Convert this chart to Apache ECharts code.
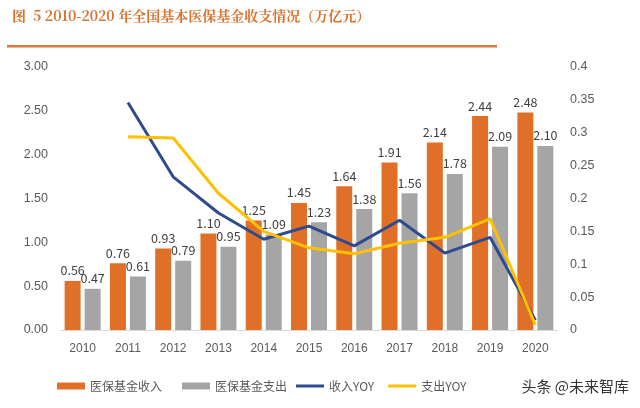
<!DOCTYPE html>
<html>
<head>
<meta charset="utf-8">
<script src="https://cdn.jsdelivr.net/npm/echarts@6/dist/echarts.min.js"></script>
<style>
  html, body { margin: 0; padding: 0; background: #fff; }
  #chart { width: 640px; height: 408px; }
</style>
</head>
<body>
<div id="chart"></div>
<script>
// 年份
const years = ['2010', '2011', '2012', '2013', '2014', '2015', '2016', '2017', '2018', '2019', '2020']
// 医保基金收入 / 支出（万亿元）
const income = [0.56, 0.76, 0.93, 1.10, 1.25, 1.45, 1.64, 1.91, 2.14, 2.44, 2.48]
const expense = [0.47, 0.61, 0.79, 0.95, 1.09, 1.23, 1.38, 1.56, 1.78, 2.09, 2.10]
// 同比增速（估读）
const incomeYoy = [null, 0.346, 0.233, 0.178, 0.138, 0.158, 0.128, 0.167, 0.117, 0.141, 0.015]
const expenseYoy = [null, 0.294, 0.292, 0.208, 0.150, 0.125, 0.116, 0.132, 0.141, 0.169, 0.008]

const myEChart = echarts.init(document.getElementById('chart'))
const labelFont = { fontFamily: 'Noto Sans CJK SC', fontSize: 12.5, color: '#404040' }
const legendText = { fontFamily: 'Noto Sans CJK SC', fontSize: 12, color: '#595959' }

const option = {
  animation: false,
  graphic: [
    {
      type: 'text', left: 12, top: 9,
      style: {
        text: '图  5 2010-2020 年全国基本医保基金收支情况（万亿元）',
        font: 'bold 14px "Noto Serif CJK SC", "Noto Sans CJK SC", serif',
        fill: '#D9722D'
      }
    },
    {
      type: 'rect', shape: { x: 7, y: 45, width: 490, height: 2.5 },
      style: { fill: '#DE7A36' }
    },
    {
      type: 'text', right: 10, top: 378, z: 100,
      style: {
        text: '头条 @未来智库',
        font: '15px "Noto Sans CJK SC"',
        fill: '#333', stroke: '#fff', lineWidth: 2
      }
    }
  ],
  legend: [
    {
      top: 375, left: 52,
      itemGap: 20, itemWidth: 28, itemHeight: 7,
      textStyle: legendText,
      data: [
        { name: '医保基金收入', icon: 'rect' },
        { name: '医保基金支出', icon: 'rect' }
      ]
    },
    {
      top: 375, left: 291,
      itemGap: 14, itemWidth: 28, itemHeight: 3,
      textStyle: legendText,
      data: [
        { name: '收入YOY', icon: 'rect' },
        { name: '支出YOY', icon: 'rect' }
      ]
    }
  ],
  grid: { left: 60, right: 82, top: 67, bottom: 78 },
  xAxis: {
    type: 'category',
    data: years,
    axisTick: { show: false },
    axisLine: { lineStyle: { color: '#D9D9D9' } },
    axisLabel: { color: '#595959', fontSize: 12, margin: 13 }
  },
  yAxis: [
    {
      type: 'value', min: 0, max: 3, interval: 0.5,
      splitLine: { show: false },
      axisLabel: { color: '#595959', fontSize: 12.5, margin: 12, formatter: v => v.toFixed(2) }
    },
    {
      type: 'value', min: 0, max: 0.4, interval: 0.05,
      splitLine: { show: false },
      axisLabel: { color: '#595959', fontSize: 12.5, margin: 12, formatter: v => String(+v.toFixed(2)) }
    }
  ],
  series: [
    {
      name: '医保基金收入', type: 'bar', data: income,
      barWidth: 16, barGap: '25%',
      itemStyle: { color: '#E07027' },
      label: { show: true, position: 'top', distance: 4, formatter: p => p.value.toFixed(2), ...labelFont }
    },
    {
      name: '医保基金支出', type: 'bar', data: expense,
      barWidth: 16,
      itemStyle: { color: '#A5A5A5' },
      label: { show: true, position: 'top', distance: 4, formatter: p => p.value.toFixed(2), ...labelFont }
    },
    {
      name: '收入YOY', type: 'line', yAxisIndex: 1, data: incomeYoy,
      symbol: 'none',
      lineStyle: { color: '#2E4B8E', width: 3 },
      itemStyle: { color: '#2E4B8E' }
    },
    {
      name: '支出YOY', type: 'line', yAxisIndex: 1, data: expenseYoy,
      symbol: 'none',
      lineStyle: { color: '#FFC000', width: 3 },
      itemStyle: { color: '#FFC000' }
    }
  ]
}
myEChart.setOption(option)
</script>
</body>
</html>
